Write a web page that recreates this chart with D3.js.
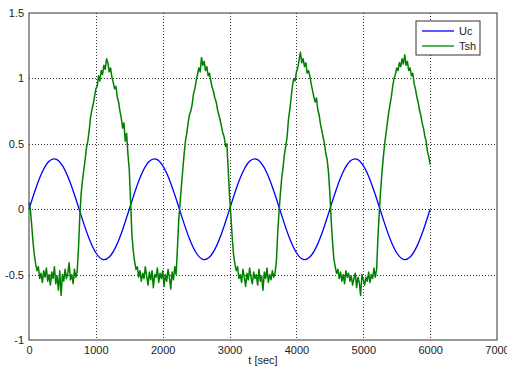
<!DOCTYPE html>
<html>
<head>
<meta charset="utf-8">
<script src="https://cdn.jsdelivr.net/npm/d3@7"></script>
<style>
  body { margin: 0; background: #fff; }
  text { font-family: "Liberation Sans", Arial, sans-serif; fill: #222; }
</style>
</head>
<body>
<div id="chart"></div>
<script>
// Uc: sampled every 100 s
const ucStep = 100
const uc = [
  0, 0.157, 0.286, 0.366, 0.383, 0.333, 0.226, 0.080, -0.080, -0.226, -0.333, -0.383, -0.366, -0.286, -0.157,
  0, 0.157, 0.286, 0.366, 0.383, 0.333, 0.226, 0.080, -0.080, -0.226, -0.333, -0.383, -0.366, -0.286, -0.157,
  0, 0.157, 0.286, 0.366, 0.383, 0.333, 0.226, 0.080, -0.080, -0.226, -0.333, -0.383, -0.366, -0.286, -0.157,
  0, 0.157, 0.286, 0.366, 0.383, 0.333, 0.226, 0.080, -0.080, -0.226, -0.333, -0.383, -0.366, -0.286, -0.157,
  0
]

// Tsh: sampled every 20 s (rows of 200 s)
const tshStep = 20
const tsh = [
  0.05, 0.0, -0.12, -0.25, -0.35, -0.42, -0.47, -0.44, -0.53, -0.49,
  -0.56, -0.47, -0.52, -0.45, -0.55, -0.50, -0.58, -0.48, -0.53, -0.44,
  -0.57, -0.51, -0.62, -0.47, -0.66, -0.50, -0.55, -0.46, -0.53, -0.49,
  -0.41, -0.54, -0.50, -0.57, -0.46, -0.52, -0.48, -0.30, -0.05, 0.12,
  0.22, 0.30, 0.38, 0.47, 0.52, 0.60, 0.70, 0.76, 0.80, 0.86,
  0.92, 0.94, 1.02, 0.98, 1.06, 1.03, 1.10, 1.07, 1.15, 1.12,
  1.05, 1.08, 1.01, 0.97, 0.92, 0.94, 0.86, 0.82, 0.75, 0.70,
  0.62, 0.66, 0.52, 0.58, 0.42, 0.30, 0.05, -0.20, -0.32, -0.40,
  -0.46, -0.44, -0.52, -0.47, -0.55, -0.49, -0.53, -0.44, -0.51, -0.58,
  -0.48, -0.54, -0.47, -0.60, -0.50, -0.52, -0.45, -0.56, -0.49, -0.53,
  -0.47, -0.59, -0.50, -0.55, -0.46, -0.52, -0.61, -0.48, -0.54, -0.44,
  -0.50, -0.30, -0.08, 0.05, 0.18, 0.30, 0.42, 0.52, 0.58, 0.66,
  0.72, 0.75, 0.80, 0.88, 0.92, 0.98, 1.03, 1.08, 1.05, 1.16,
  1.10, 1.13, 1.06, 1.09, 1.02, 1.04, 0.98, 0.93, 0.90, 0.85,
  0.82, 0.76, 0.72, 0.68, 0.63, 0.58, 0.55, 0.48, 0.50, 0.30,
  0.10, -0.05, -0.22, -0.35, -0.42, -0.47, -0.44, -0.53, -0.50, -0.56,
  -0.46, -0.52, -0.59, -0.49, -0.54, -0.45, -0.52, -0.57, -0.48, -0.53,
  -0.50, -0.58, -0.46, -0.55, -0.51, -0.62, -0.48, -0.53, -0.45, -0.56,
  -0.50, -0.54, -0.47, -0.52, -0.49, -0.40, -0.18, -0.02, 0.12, 0.24,
  0.32, 0.42, 0.48, 0.55, 0.68, 0.76, 0.85, 0.94, 1.00, 0.98,
  1.05, 1.08, 1.14, 1.20, 1.12, 1.15, 1.09, 1.12, 1.04, 1.06,
  1.02, 0.96, 0.91, 0.86, 0.82, 0.85, 0.76, 0.72, 0.65, 0.60,
  0.55, 0.50, 0.42, 0.38, 0.28, 0.12, -0.08, -0.25, -0.38, -0.44,
  -0.49, -0.46, -0.53, -0.48, -0.55, -0.50, -0.57, -0.47, -0.52, -0.49,
  -0.55, -0.51, -0.58, -0.53, -0.49, -0.60, -0.52, -0.56, -0.66, -0.50,
  -0.54, -0.58, -0.52, -0.55, -0.48, -0.56, -0.50, -0.53, -0.45, -0.52,
  -0.46, -0.20, -0.02, 0.15, 0.28, 0.40, 0.50, 0.58, 0.66, 0.74,
  0.80, 0.86, 0.94, 1.00, 1.03, 1.08, 1.06, 1.12, 1.09, 1.15,
  1.11, 1.18, 1.10, 1.13, 1.06, 1.08, 1.02, 1.04, 0.96, 0.92,
  0.86, 0.82, 0.76, 0.72, 0.66, 0.62, 0.56, 0.52, 0.44, 0.40,
  0.34
]

const xTicks = [0, 1000, 2000, 3000, 4000, 5000, 6000, 7000]
const yTicks = [-1, -0.5, 0, 0.5, 1, 1.5]
const seriesNames = ['Uc', 'Tsh']
const seriesColors = ['#0000ff', '#008000']

const WIDTH = 507
const HEIGHT = 367
const margin = { top: 13, right: 10, bottom: 27, left: 29 }

const svg = d3.select('#chart')
  .append('svg')
    .attr('width', WIDTH)
    .attr('height', HEIGHT)

const x = d3.scaleLinear().domain([0, 7000]).range([margin.left, WIDTH - margin.right])
const y = d3.scaleLinear().domain([-1, 1.5]).range([HEIGHT - margin.bottom, margin.top])

// grid
svg.append('g')
  .attr('stroke', '#333')
  .attr('stroke-width', 1)
  .attr('stroke-dasharray', '1,2')
  .call(g => g.selectAll('.vx')
    .data(xTicks.slice(1, -1))
    .join('line')
      .attr('x1', d => Math.round(x(d)) + 0.5)
      .attr('x2', d => Math.round(x(d)) + 0.5)
      .attr('y1', y(1.5))
      .attr('y2', y(-1)))
  .call(g => g.selectAll('.hy')
    .data(yTicks.slice(1, -1))
    .join('line')
      .attr('class', 'hy')
      .attr('y1', d => Math.round(y(d)) + 0.5)
      .attr('y2', d => Math.round(y(d)) + 0.5)
      .attr('x1', x(0))
      .attr('x2', x(7000)))

// series
const line = d3.line()
  .x(d => x(d[0]))
  .y(d => y(d[1]))

const ucPts = uc.map((v, i) => [i * ucStep, v])
const tshPts = tsh.map((v, i) => [i * tshStep, v])

svg.append('path')
  .datum(ucPts)
  .attr('fill', 'none')
  .attr('stroke', seriesColors[0])
  .attr('stroke-width', 1.3)
  .attr('d', line.curve(d3.curveNatural))

svg.append('path')
  .datum(tshPts)
  .attr('fill', 'none')
  .attr('stroke', seriesColors[1])
  .attr('stroke-width', 1.5)
  .attr('stroke-linejoin', 'round')
  .attr('d', line.curve(d3.curveLinear))

// axes box
const xAxis = d3.axisBottom(x).tickValues(xTicks).tickSize(0).tickPadding(6).tickFormat(d3.format('d'))
const yAxis = d3.axisLeft(y).tickValues(yTicks).tickSize(0).tickPadding(5).tickFormat(d => d)

svg.append('g')
  .attr('transform', `translate(0,${y(-1)})`)
  .call(xAxis)
  .call(g => g.select('.domain').remove())
  .selectAll('text')
    .attr('font-size', 11)
    .attr('fill', '#222')

svg.append('g')
  .attr('transform', `translate(${x(0)},0)`)
  .call(yAxis)
  .call(g => g.select('.domain').remove())
  .selectAll('text')
    .attr('font-size', 11)
    .attr('fill', '#222')

svg.append('rect')
  .attr('x', x(0))
  .attr('y', y(1.5))
  .attr('width', x(7000) - x(0))
  .attr('height', y(-1) - y(1.5))
  .attr('fill', 'none')
  .attr('stroke', '#333')
  .attr('stroke-width', 1)

svg.append('text')
  .attr('x', x(3500))
  .attr('y', HEIGHT - 3)
  .attr('text-anchor', 'middle')
  .attr('font-size', 11)
  .text('t [sec]')

// legend
const legend = svg.append('g').attr('transform', 'translate(416,21)')
legend.append('rect')
  .attr('width', 64)
  .attr('height', 34)
  .attr('fill', '#fff')
  .attr('stroke', '#333')
legend.selectAll('g')
  .data(seriesNames)
  .join('g')
    .attr('transform', (d, i) => `translate(0,${10 + i * 15})`)
    .call(g => g.append('line')
      .attr('x1', 6).attr('x2', 38)
      .attr('stroke', (d, i) => seriesColors[i])
      .attr('stroke-width', 1.3))
    .call(g => g.append('text')
      .attr('x', 43).attr('y', 4)
      .attr('font-size', 11)
      .text(d => d))
</script>
</body>
</html>
